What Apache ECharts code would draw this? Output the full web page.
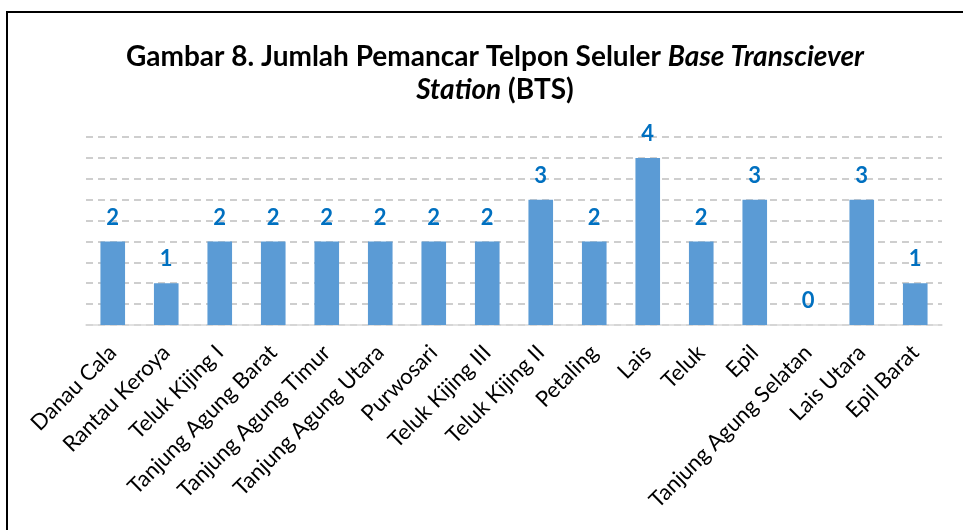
<!DOCTYPE html>
<html>
<head>
<meta charset="utf-8">
<script src="https://cdn.jsdelivr.net/npm/echarts@6/dist/echarts.min.js"></script>
<style>
  html, body { margin: 0; padding: 0; background: #fff; }
  #chart { width: 963px; height: 530px; }
</style>
</head>
<body>
<div id="chart"></div>
<script>
var desa = [
  'Danau Cala', 'Rantau Keroya', 'Teluk Kijing I', 'Tanjung Agung Barat',
  'Tanjung Agung Timur', 'Tanjung Agung Utara', 'Purwosari', 'Teluk Kijing III',
  'Teluk Kijing II', 'Petaling', 'Lais', 'Teluk', 'Epil',
  'Tanjung Agung Selatan', 'Lais Utara', 'Epil Barat'
];
var jumlah_bts = [2, 1, 2, 2, 2, 2, 2, 2, 3, 2, 4, 2, 3, 0, 3, 1];

var font = 'Lato, "Open Sans", sans-serif';

var option = {
  animation: false,
  backgroundColor: '#fff',
  title: {
    left: 490,
    top: 35,
    textAlign: 'center',
    text: '{b|Gambar 8. Jumlah Pemancar Telpon Seluler }{i|Base Transciever}\n{i|Station}{b| (BTS)}',
    textStyle: {
      fontFamily: font,
      rich: {
        b: { fontSize: 28, fontWeight: 'bold', color: '#000', fontFamily: font, lineHeight: 33 },
        i: { fontSize: 28, fontWeight: 'bold', fontStyle: 'italic', color: '#000', fontFamily: font, lineHeight: 33 }
      }
    }
  },
  graphic: [
    {
      type: 'polyline',
      shape: { points: [[7, 535], [7, 12], [970, 12]] },
      style: { stroke: '#000', lineWidth: 2, fill: null }
    }
  ],
  grid: {
    left: 86,
    right: 21,
    top: 137,
    bottom: 205,
    containLabel: false
  },
  xAxis: {
    type: 'category',
    data: desa,
    axisLine: { show: true, lineStyle: { color: '#D9D9D9', width: 1.5 } },
    axisTick: { show: false },
    axisLabel: {
      interval: 0,
      rotate: 45,
      margin: 24,
      fontSize: 22,
      color: '#000',
      fontFamily: font
    }
  },
  yAxis: {
    type: 'value',
    min: 0,
    max: 4.5,
    interval: 0.5,
    axisLine: { show: false },
    axisTick: { show: false },
    axisLabel: { show: false },
    splitLine: {
      show: true,
      lineStyle: { color: '#BFBFBF', width: 1.5, type: [7, 5] }
    }
  },
  series: [
    {
      name: 'BTS',
      type: 'bar',
      data: jumlah_bts,
      barWidth: '46%',
      itemStyle: { color: '#5B9BD5' },
      label: {
        show: true,
        position: 'top',
        distance: 13,
        fontSize: 22,
        fontWeight: 'bold',
        color: '#0070C0',
        fontFamily: font
      }
    }
  ]
};

echarts.init(document.getElementById('chart')).setOption(option);
</script>
</body>
</html>
